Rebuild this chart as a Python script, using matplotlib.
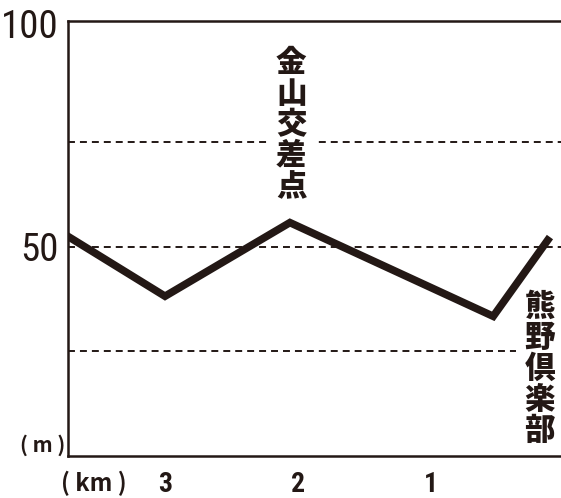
import matplotlib
matplotlib.use("Agg")
import matplotlib.pyplot as plt
from matplotlib import font_manager

# elevation profile, distance counts down towards the goal
distance_km = [3.73, 3.0, 2.06, 0.53, 0.12]
elevation_m = [52.5, 38.2, 55.8, 33.4, 51.6]

grid_levels = [25, 50, 75]
km_ticks = [3, 2, 1]
km_labels = ["3", "2", "1"]
m_ticks = [50, 103.5]
m_labels = ["50", "100"]

peak_name = "金山交差点"
goal_name = "熊野倶楽部"

INK = "#231815"


def pick_font(*names):
    installed = {f.name for f in font_manager.fontManager.ttflist}
    for name in names:
        if name in installed:
            return name
    return "DejaVu Sans"


narrow = pick_font("Liberation Sans Narrow", "DejaVu Sans Condensed", "Roboto Condensed")
cjk = ["Noto Sans CJK JP", "DejaVu Sans"]

plt.rcParams["lines.scale_dashes"] = False

fig = plt.figure(figsize=(5.61, 4.98), dpi=100)
ax = fig.add_axes([68 / 561, 42 / 498, 493 / 561, 435 / 498])

for lvl in grid_levels:
    ax.axhline(lvl, color=INK, lw=1.4, dashes=(5, 3.6), zorder=1)

ax.plot(distance_km, elevation_m, color=INK, lw=5.5, solid_joinstyle="miter", zorder=3)

ax.set_xlim(3.73, 0.02)
ax.set_ylim(0, 104)

for side in ["left", "bottom", "top"]:
    ax.spines[side].set_linewidth(1.8)
    ax.spines[side].set_color(INK)
ax.spines["right"].set_visible(False)

ax.set_xticks(km_ticks, km_labels, fontfamily=narrow, fontweight="bold", fontsize=20, color=INK)
ax.set_yticks(m_ticks, m_labels, fontfamily=narrow, fontsize=28, color=INK)
ax.tick_params(axis="x", length=0, pad=11)
ax.tick_params(axis="y", length=0, pad=7)

# unit labels
ax.text(-0.006, 0.0, "( m )", transform=ax.transAxes, ha="right", va="bottom",
        family=cjk, fontweight="bold", fontsize=15, color=INK)
ax.text(-0.014, -0.062, "( km )", transform=ax.transAxes, ha="left", va="center",
        family=cjk, fontweight="bold", fontsize=17, color=INK)

box = dict(facecolor="white", edgecolor="none", pad=6)
label_style = dict(family=cjk, fontweight="heavy", fontsize=22, linespacing=1.0,
                   color=INK, bbox=box, zorder=2.5)
ax.annotate("\n".join(peak_name), xy=(distance_km[2], elevation_m[2]),
            xytext=(1, 15), textcoords="offset points", ha="center", va="bottom",
            **label_style)
ax.text(0.18, 39.5, "\n".join(goal_name), ha="center", va="top", **label_style)

fig.savefig("out.png", dpi=100, facecolor="white")
